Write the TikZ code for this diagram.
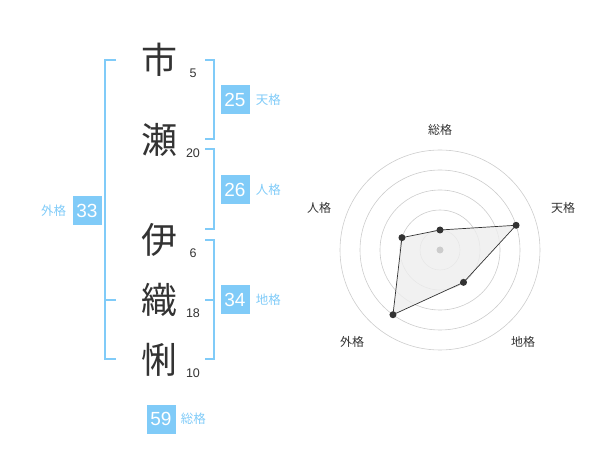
\documentclass[tikz,border=0pt]{standalone}
\usepackage{fontspec}
\setmainfont{Liberation Sans}
\newfontfamily\jpfont{Noto Sans CJK JP}
\usetikzlibrary{positioning}
\usetikzlibrary{calc}

\definecolor{kakublue}{HTML}{80CBF8}
\definecolor{inkgray}{HTML}{333333}
\definecolor{ringgray}{HTML}{CCCCCC}
\definecolor{areagray}{HTML}{EEEEEE}

\begin{document}
\begin{tikzpicture}[
    x=1pt, y=-1pt,
    font=\jpfont
]
\tikzset{
    kanji/.style = {inner sep=0pt, text=inkgray, font=\jpfont\fontsize{36}{36}\selectfont},
    strokes/.style = {inner sep=0pt, text=inkgray, font=\fontsize{12.5}{12.5}\selectfont},
    kakubox/.style = {fill=kakublue, text=white, inner sep=0pt, minimum width=29pt, minimum height=29pt, font=\fontsize{19}{19}\selectfont},
    kakulabel/.style = {inner sep=0pt, text=kakublue, font=\jpfont\fontsize{12.5}{12.5}\selectfont},
    bracket/.style = {draw=kakublue, line width=2pt},
    ring/.style = {draw=ringgray, line width=0.6pt},
    dot/.style = {circle, fill=inkgray, inner sep=0pt, minimum size=7pt},
    axislabel/.style = {inner sep=0pt, text=inkgray, font=\jpfont\fontsize{12}{12}\selectfont}
}
\useasboundingbox (0,0) rectangle (600,470);

% name and stroke counts
\node[kanji] at (159,60) (k1) {市};
\node[kanji] at (159,140) (k2) {瀬};
\node[kanji] at (159,240) (k3) {伊};
\node[kanji] at (159,300) (k4) {織};
\node[kanji] at (159,360) (k5) {悧};
\node[strokes] at (193,73) (s1) {5};
\node[strokes] at (193,153) (s2) {20};
\node[strokes] at (193,253) (s3) {6};
\node[strokes] at (193,313) (s4) {18};
\node[strokes] at (193,373) (s5) {10};

% brackets
\coordinate (ga) at (116,60);  \coordinate (gb) at (105,60);
\coordinate (gc) at (105,359); \coordinate (gd) at (116,359);
\coordinate (ge) at (105,300); \coordinate (gf) at (116,300);
\draw[bracket] (ga) -- (gb) -- (gc) -- (gd);
\draw[bracket] (ge) -- (gf);
\coordinate (ta) at (205,60);  \coordinate (tb) at (214,60);
\coordinate (tc) at (214,139); \coordinate (td) at (205,139);
\draw[bracket] (ta) -- (tb) -- (tc) -- (td);
\coordinate (ja) at (205,149); \coordinate (jb) at (214,149);
\coordinate (jc) at (214,229); \coordinate (jd) at (205,229);
\draw[bracket] (ja) -- (jb) -- (jc) -- (jd);
\coordinate (ca) at (205,240); \coordinate (cb) at (214,240);
\coordinate (cc) at (214,359); \coordinate (cd) at (205,359);
\coordinate (ce) at (214,300); \coordinate (cf) at (205,300);
\draw[bracket] (ca) -- (cb) -- (cc) -- (cd);
\draw[bracket] (ce) -- (cf);

% scores
\node[kakubox] at (235,100) (ten) {25};
\node[kakulabel, right=6pt of ten] (tenl) {天格};
\node[kakubox] at (235,190) (jin) {26};
\node[kakulabel, right=6pt of jin] (jinl) {人格};
\node[kakubox] at (235,300) (chi) {34};
\node[kakulabel, right=6pt of chi] (chil) {地格};
\node[kakubox] at (87,211) (gai) {33};
\node[kakulabel, left=6pt of gai] (gail) {外格};
\node[kakubox] at (161,419) (sou) {59};
\node[kakulabel, right=5pt of sou] (soul) {総格};

% radar
\coordinate (o) at (440,250);
\foreach \r in {20,40,60,80,100}
    \draw[ring] (o) circle[radius=\r];
\coordinate (p1) at ($(o)+(-90:20)$);
\coordinate (p2) at ($(o)+(-18:80)$);
\coordinate (p3) at ($(o)+(54:40)$);
\coordinate (p4) at ($(o)+(126:80)$);
\coordinate (p5) at ($(o)+(198:40)$);
\draw[inkgray, line width=0.7pt, fill=areagray, fill opacity=0.8] (p1) -- (p2) -- (p3) -- (p4) -- (p5) -- cycle;
\node[circle, fill=ringgray, inner sep=0pt, minimum size=7pt] at (o) (oc) {};
\foreach \p in {p1,p2,p3,p4,p5}
    \node[dot] at (\p) {};
\node[axislabel] at (440,130) (a1) {総格};
\node[axislabel] at (563,208) (a2) {天格};
\node[axislabel] at (523,342) (a3) {地格};
\node[axislabel] at (352,342) (a4) {外格};
\node[axislabel] at (319,208) (a5) {人格};
\end{tikzpicture}
\end{document}
